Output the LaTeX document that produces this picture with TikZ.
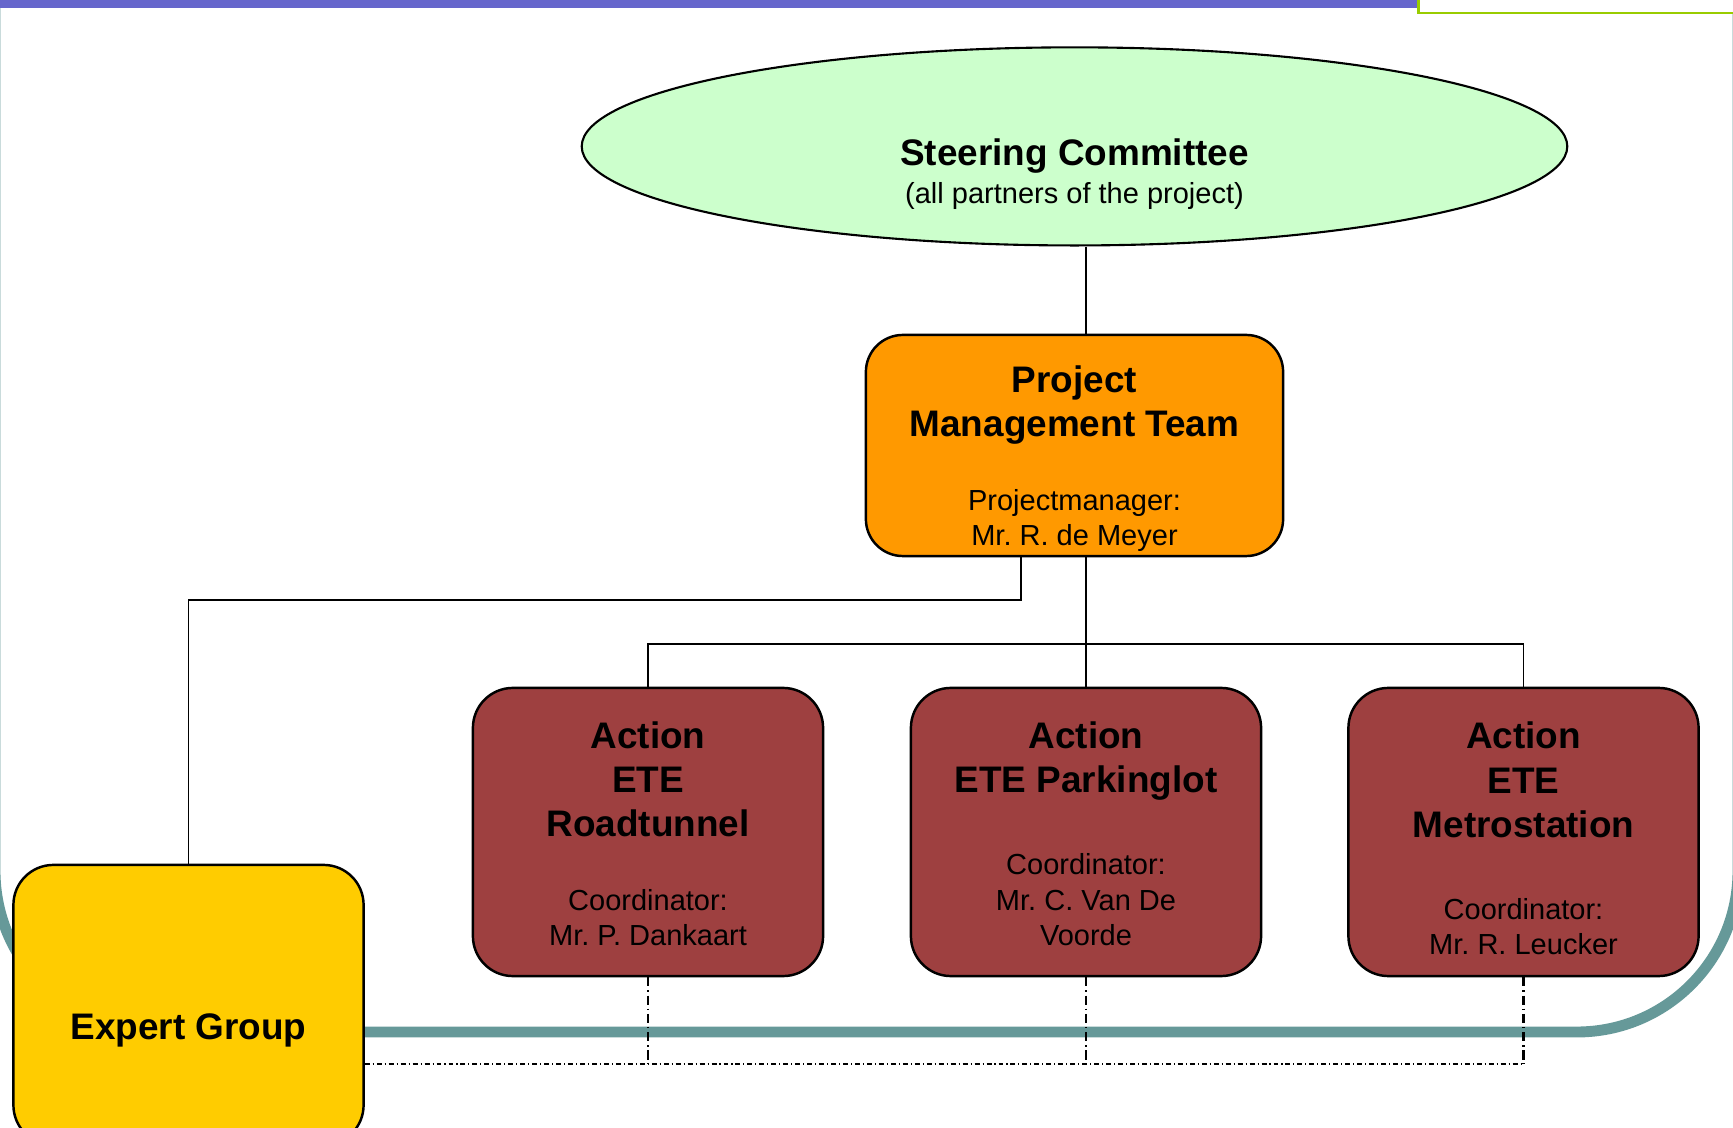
\documentclass[tikz,border=0pt]{standalone}
\usepackage{fontspec}
\setmainfont{Liberation Sans}
\usetikzlibrary{shapes.geometric}
\setlength{\parindent}{0pt}
\frenchspacing
\newcommand{\bigbf}{\fontsize{10.5}{12.6}\selectfont\bfseries}
\newcommand{\smallrm}{\fontsize{8.25}{10}\selectfont\mdseries}
\definecolor{steergreen}{HTML}{CCFFCC}
\definecolor{pmorange}{HTML}{FF9900}
\definecolor{actred}{RGB}{158,64,64}
\definecolor{expyellow}{HTML}{FFCC00}
\definecolor{barblue}{HTML}{6666CC}
\definecolor{frameteal}{HTML}{669999}
\definecolor{titlegreen}{HTML}{99CC00}

\begin{document}
\begin{tikzpicture}[x=0.01cm,y=-0.01cm]
  \tikzset{box/.style = {shape=rectangle,draw,line width=0.7pt,rounded corners=0.4cm,inner sep=0pt,align=flush center,text width=3.3cm,minimum width=3.5cm,minimum height=2.88cm}}
  \tikzset{action/.style = {box,fill=actred}}
  \tikzset{link/.style = {line width=0.55pt}}
  \tikzset{vdash/.style = {line width=0.6pt,dash pattern=on 2.6pt off 1.1pt on 0.4pt off 1.1pt}}
  \tikzset{hdash/.style = {line width=0.6pt,dash pattern=on 1.4pt off 0.85pt on 0.3pt off 0.85pt}}
  \useasboundingbox (0,0) rectangle (1733,1128);
  \clip (0,0) rectangle (1733,1128);

  \draw[frameteal,line width=3.1pt,rounded corners=1.61cm] (-5,-20) -- (-5,1032) -- (1738,1032) -- (1738,-20);
  \fill[barblue] (0,0) rectangle (1417,8);
  \draw[titlegreen,line width=0.7pt,fill=white] (1418.5,-10) rectangle (1745,13);

	\node[shape=ellipse,draw,line width=0.6pt,fill=steergreen,minimum width=9.85cm,minimum height=1.98cm,inner sep=0pt,align=flush center,text width=4.5cm] (steer) at (1074.5,146.4) {{\bigbf\rule{0pt}{23.5pt}Steering Committee\par}\vspace{0.7pt}{\smallrm (all partners of the project)\par}};
	\node[box,fill=pmorange,minimum width=4.17cm,minimum height=2.21cm,rounded corners=0.37cm,text width=3.9cm] (pmt) at (1074.5,445.5) {{\bigbf\rule{0pt}{15pt}Project\\Management Team\par}\vspace{10.9pt}{\smallrm Projectmanager:\\Mr. R. de Meyer\par}};
	\node[action] (road) at (648,832) {{\bigbf\rule{0pt}{8.45pt}Action\\ETE\\Roadtunnel\par}\vspace{10.8pt}{\smallrm Coordinator:\\Mr. P. Dankaart\par}};
	\node[action] (park) at (1086,832) {{\bigbf\rule{0pt}{8.45pt}Action\\ETE Parkinglot\par}\vspace{13.4pt}{\smallrm Coordinator:\\Mr. C. Van De\\Voorde\par}};
	\node[action] (metro) at (1523.5,832) {{\bigbf\rule{0pt}{11.2pt}Action\\ETE\\Metrostation\par}\vspace{13.2pt}{\smallrm Coordinator:\\Mr. R. Leucker\par}};
	\node[box,fill=expyellow,minimum height=2.8cm] (expert) at (188.5,1005) {\bigbf\rule{0pt}{22pt}Expert Group};

  \coordinate (bus) at (1086,644);
  \coordinate (elbow) at (1020.7,600);
  \coordinate (ddbus) at (1523.5,1064);

  \draw[link] (steer.south -| park.north) -- (pmt.north -| park.north);
  \draw[link] (pmt.south -| elbow) -- (elbow) -| (expert.north);
    \foreach \act in {road,park,metro}
    \draw[link] (pmt.south -| bus) -- (bus) -| (\act.north);
    \foreach \act in {road,park,metro}
    \draw[vdash] (\act.south) -- (\act.south |- ddbus);
  \draw[hdash] (expert.east |- ddbus) -- (ddbus);
\end{tikzpicture}
\end{document}
